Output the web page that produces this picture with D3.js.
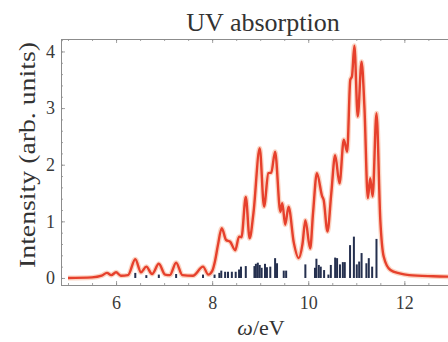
<!DOCTYPE html>
<html>
<head>
<meta charset="utf-8">
<script src="https://cdn.jsdelivr.net/npm/d3@7"></script>
<style>
  html, body { margin: 0; padding: 0; background: #ffffff; }
  svg { display: block; }
  text { font-family: "Liberation Serif", "DejaVu Serif", serif; fill: #333; }
</style>
</head>
<body>
<svg id="chart" width="448" height="342"></svg>
<script>
// Broadened absorption spectrum: [energy (eV), intensity]
const spectrumEnergy = [5.0, 5.5, 5.7, 5.81, 5.9, 6.0, 6.1, 6.25, 6.40, 6.52, 6.63, 6.75, 6.89, 7.02, 7.12, 7.25, 7.38, 7.6, 7.81, 7.92,
  8.0, 8.06, 8.12, 8.2, 8.29, 8.375, 8.48, 8.56, 8.61, 8.70, 8.78, 8.86, 8.99, 9.08, 9.17, 9.23, 9.31, 9.42, 9.46, 9.52, 9.59, 9.7, 9.80,
  9.88, 9.94, 10.04, 10.1, 10.18, 10.29, 10.32, 10.40, 10.48, 10.56, 10.65, 10.74, 10.81, 10.875, 10.91, 10.96, 11.03, 11.11, 11.17,
  11.24, 11.29, 11.34, 11.42, 11.50, 11.57, 11.71, 11.9, 12.1, 12.6, 13.2];
const spectrumIntensity = [0.0, 0.01, 0.04, 0.09, 0.05, 0.10, 0.04, 0.05, 0.33, 0.10, 0.20, 0.07, 0.25, 0.06, 0.05, 0.27, 0.05, 0.04, 0.20, 0.06,
  0.12, 0.30, 0.58, 0.88, 0.67, 0.64, 0.49, 0.73, 0.72, 1.43, 0.70, 1.15, 2.29, 1.26, 1.85, 1.86, 2.23, 1.17, 1.32, 0.94, 1.26, 0.62, 0.35,
  0.60, 1.02, 0.52, 1.15, 1.85, 1.44, 1.38, 0.82, 1.50, 2.17, 1.67, 2.44, 2.23, 3.50, 3.56, 4.10, 2.85, 3.82, 3.00,
  1.41, 1.76, 1.44, 2.91, 1.02, 0.38, 0.14, 0.08, 0.05, 0.03, 0.02];

// Individual transitions (stick spectrum): energy and oscillator strength
const stickEnergy = [6.40, 6.63, 6.89, 7.25, 7.81, 8.05, 8.15, 8.19, 8.27, 8.33, 8.41, 8.49, 8.56, 8.60, 8.70, 8.88, 8.91, 8.95, 8.99,
  9.03, 9.10, 9.14, 9.21, 9.31, 9.35, 9.49, 9.54, 9.94, 10.14, 10.17, 10.22, 10.26, 10.33, 10.42, 10.47, 10.56, 10.60, 10.66, 10.72,
  10.76, 10.87, 10.95, 11.01, 11.06, 11.11, 11.21, 11.26, 11.33, 11.42];
const stickStrength = [0.09, 0.05, 0.06, 0.07, 0.06, 0.06, 0.09, 0.13, 0.11, 0.11, 0.11, 0.11, 0.15, 0.20, 0.21, 0.21, 0.25, 0.27, 0.23,
  0.18, 0.25, 0.19, 0.20, 0.35, 0.26, 0.13, 0.13, 0.24, 0.18, 0.34, 0.23, 0.20, 0.14, 0.06, 0.23, 0.36, 0.35, 0.24, 0.28,
  0.28, 0.58, 0.73, 0.24, 0.29, 0.44, 0.26, 0.35, 0.20, 0.69];

const xMajorTicks = [6, 8, 10, 12];
const yMajorTicks = [0, 1, 2, 3, 4];

const serif = '"Liberation Serif", "DejaVu Serif", serif';
const svg = d3.select("#chart");
const plotLeft = 61, plotTop = 39, plotBottom = 285, plotRight = 462;

const x = d3.scaleLinear().domain([4.854, 13.2]).range([plotLeft, plotRight]);
const y = d3.scaleLinear().domain([-0.124, 4.22]).range([plotBottom, plotTop]);

svg.append("defs").append("clipPath").attr("id", "plotArea")
  .append("rect").attr("x", plotLeft).attr("y", plotTop)
  .attr("width", plotRight - plotLeft).attr("height", plotBottom - plotTop);

const frameColor = "#8c8c8c";

// frame axes with inward ticks
const xMinor = d3.range(5, 13.01, 0.5);
const yMinor = d3.range(0, 4.21, 0.2);

const gBottom = svg.append("g").attr("transform", `translate(0,${plotBottom})`)
  .call(d3.axisBottom(x).tickValues(xMinor).tickSize(-2).tickFormat(""));
const gBottomMajor = svg.append("g").attr("transform", `translate(0,${plotBottom})`)
  .call(d3.axisBottom(x).tickValues(xMajorTicks).tickSize(-4).tickPadding(11).tickFormat(d3.format("d")));
const gTop = svg.append("g").attr("transform", `translate(0,${plotTop})`)
  .call(d3.axisTop(x).tickValues(xMinor).tickSize(-2).tickFormat(""));
const gTopMajor = svg.append("g").attr("transform", `translate(0,${plotTop})`)
  .call(d3.axisTop(x).tickValues(xMajorTicks).tickSize(-4).tickFormat(""));
const gLeft = svg.append("g").attr("transform", `translate(${plotLeft},0)`)
  .call(d3.axisLeft(y).tickValues(yMinor).tickSize(-2).tickFormat(""));
const gLeftMajor = svg.append("g").attr("transform", `translate(${plotLeft},0)`)
  .call(d3.axisLeft(y).tickValues(yMajorTicks).tickSize(-4).tickPadding(6).tickFormat(d3.format("d")));

[gBottom, gBottomMajor, gTop, gTopMajor, gLeft, gLeftMajor].forEach(g => {
  g.attr("font-family", null);
  g.select(".domain").attr("stroke", frameColor).attr("stroke-width", 1);
  g.selectAll(".tick line").attr("stroke", frameColor).attr("stroke-width", 0.8);
  g.selectAll(".tick text").style("font-family", serif)
    .style("font-size", "18px").style("fill", "#3a3a3a");
});

const plot = svg.append("g").attr("clip-path", "url(#plotArea)");

// sticks
const sticks = stickEnergy.map((e, i) => ({ e, s: stickStrength[i] }));
plot.selectAll("rect.stick").data(sticks).join("rect")
  .attr("class", "stick")
  .attr("x", d => x(d.e) - 1)
  .attr("width", 2)
  .attr("y", d => y(d.s))
  .attr("height", d => y(0) - y(d.s))
  .attr("fill", "#25304f");

// broadened spectrum
const spectrum = spectrumEnergy.map((e, i) => ({ e, v: spectrumIntensity[i] }));
const line = d3.line().x(d => x(d.e)).y(d => y(d.v)).curve(d3.curveMonotoneX);
plot.append("path").datum(spectrum).attr("d", line)
  .attr("fill", "none").attr("stroke", "#f7a07a").attr("stroke-width", 5).attr("stroke-opacity", 0.45)
  .attr("stroke-linejoin", "round");
plot.append("path").datum(spectrum).attr("d", line)
  .attr("fill", "none").attr("stroke", "#e6402c").attr("stroke-width", 2.4)
  .attr("stroke-linejoin", "round");

// titles
svg.append("text").attr("x", 263).attr("y", 31).attr("text-anchor", "middle")
  .style("font-size", "26px").style("fill", "#333").text("UV absorption");

svg.append("text").attr("transform", "translate(35,155) rotate(-90)").attr("text-anchor", "middle")
  .style("font-size", "23px").style("fill", "#333")
  .attr("textLength", 226).attr("lengthAdjust", "spacingAndGlyphs")
  .text("Intensity (arb. units)");

const xl = svg.append("text").attr("x", 261).attr("y", 335).attr("text-anchor", "middle")
  .style("font-size", "22px").style("fill", "#333");
xl.append("tspan").attr("font-style", "italic").text("ω");
xl.append("tspan").text("/eV");
</script>
</body>
</html>
